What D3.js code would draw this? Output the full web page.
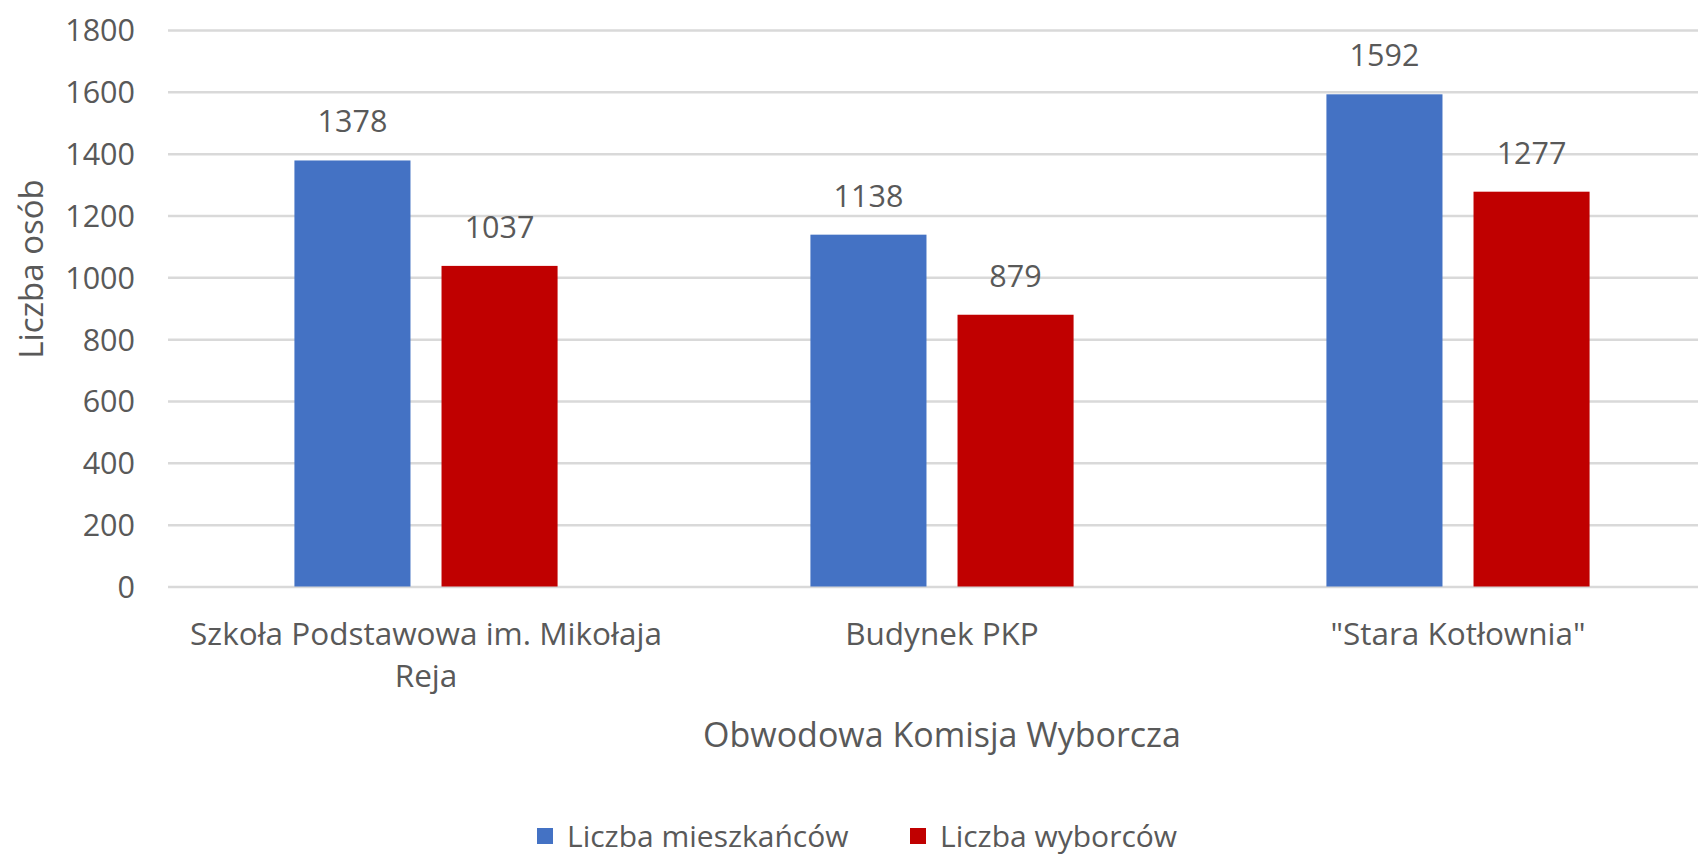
<!DOCTYPE html>
<html>
  <head>
    <meta charset="UTF-8" />
    <title>Obwodowa Komisja Wyborcza</title>
    <script src="https://d3js.org/d3.v7.min.js"></script>
    <style>
      body {
        margin: 0;
        background: #fff;
      }
      svg text {
        font-family: "Open Sans", Lato, sans-serif;
        fill: #595959;
      }
    </style>
  </head>
  <body>
    <svg width="1698" height="858"></svg>
    <script>
      // data
      var categories = ["Szkoła Podstawowa im. Mikołaja Reja", "Budynek PKP", '"Stara Kotłownia"'];
      var tickLabels = [["Szkoła Podstawowa im. Mikołaja", "Reja"], ["Budynek PKP"], ['"Stara Kotłownia"']];
      var keys = ["Liczba mieszkańców", "Liczba wyborców"];
      var mieszkancy = [1378, 1138, 1592];
      var wyborcy = [1037, 879, 1277];
      var yTicks = [0, 200, 400, 600, 800, 1000, 1200, 1400, 1600, 1800];
      var colors = ["#4472C4", "#C00000"];

      var data = categories.map(function (c, i) {
        return { cat: c, values: [mieszkancy[i], wyborcy[i]] };
      });

      var svg = d3.select("svg"),
        plotLeft = 168,
        plotRight = 1716,
        plotTop = 30,
        plotBottom = 586.5;

      var x0 = d3
        .scaleBand()
        .domain(categories)
        .range([plotLeft, plotRight])
        .paddingInner(0.49)
        .paddingOuter(0.245);

      var x1 = d3
        .scaleBand()
        .domain(keys)
        .range([0, x0.bandwidth()])
        .paddingInner(0.211);

      var y = d3.scaleLinear().domain([0, 1800]).range([plotBottom, plotTop]);

      var color = d3.scaleOrdinal().domain(keys).range(colors);

      // gridlines + y labels
      var yAxis = svg
        .append("g")
        .attr("transform", "translate(" + plotLeft + ",0)")
        .call(
          d3
            .axisLeft(y)
            .tickValues(yTicks)
            .tickFormat(d3.format("d"))
            .tickSize(-(1698 - plotLeft))
            .tickPadding(33)
        );
      yAxis.select(".domain").remove();
      yAxis
        .selectAll("line")
        .attr("stroke", "#d9d9d9")
        .attr("stroke-width", 2.5);
      yAxis
        .selectAll("text")
        .attr("font-size", 30.5)
        .attr("font-family", null)
        .attr("dy", "0.36em")
        .style("fill", "#595959");

      // bars
      var groups = svg
        .append("g")
        .selectAll("g")
        .data(data)
        .enter()
        .append("g")
        .attr("transform", function (d) {
          return "translate(" + x0(d.cat) + ",0)";
        });

      var cells = groups
        .selectAll("g")
        .data(function (d) {
          return keys.map(function (k, i) {
            return { key: k, value: d.values[i] };
          });
        })
        .enter()
        .append("g");

      cells
        .append("rect")
        .attr("x", function (d) {
          return x1(d.key);
        })
        .attr("y", function (d) {
          return y(d.value);
        })
        .attr("width", x1.bandwidth())
        .attr("height", function (d) {
          return y(0) - y(d.value);
        })
        .attr("fill", function (d) {
          return color(d.key);
        });

      cells
        .append("text")
        .attr("x", function (d) {
          return x1(d.key) + x1.bandwidth() / 2;
        })
        .attr("y", function (d) {
          return y(d.value) - 28;
        })
        .attr("text-anchor", "middle")
        .attr("font-size", 30.5)
        .text(function (d) {
          return d.value;
        });

      // category labels
      var xAxis = svg
        .append("g")
        .attr("transform", "translate(0," + plotBottom + ")")
        .call(d3.axisBottom(x0).tickSize(0).tickPadding(0));
      xAxis.select(".domain").remove();
      xAxis.selectAll("text").each(function (d, i) {
        var t = d3
          .select(this)
          .text(null)
          .attr("dy", null)
          .attr("y", 0)
          .attr("font-size", 31.5)
          .attr("font-family", null)
          .style("fill", "#595959");
        tickLabels[i].forEach(function (line, j) {
          t.append("tspan").attr("x", 0).attr("y", 58 + j * 42).text(line);
        });
      });

      // axis titles
      svg
        .append("text")
        .attr("x", (plotLeft + plotRight) / 2)
        .attr("y", 747)
        .attr("text-anchor", "middle")
        .attr("font-size", 34)
        .text("Obwodowa Komisja Wyborcza");

      svg
        .append("text")
        .attr("transform", "translate(43,269) rotate(-90)")
        .attr("text-anchor", "middle")
        .attr("font-size", 33)
        .text("Liczba osób");

      // legend
      var legendX = [537, 910];
      var legend = svg
        .append("g")
        .selectAll("g")
        .data(keys)
        .enter()
        .append("g")
        .attr("transform", function (d, i) {
          return "translate(" + legendX[i] + ",828)";
        });

      legend
        .append("rect")
        .attr("width", 16)
        .attr("height", 16)
        .attr("fill", function (d) {
          return color(d);
        });

      legend
        .append("text")
        .attr("x", 30)
        .attr("y", 19)
        .attr("font-size", 30)
        .text(function (d) {
          return d;
        });
    </script>
  </body>
</html>
